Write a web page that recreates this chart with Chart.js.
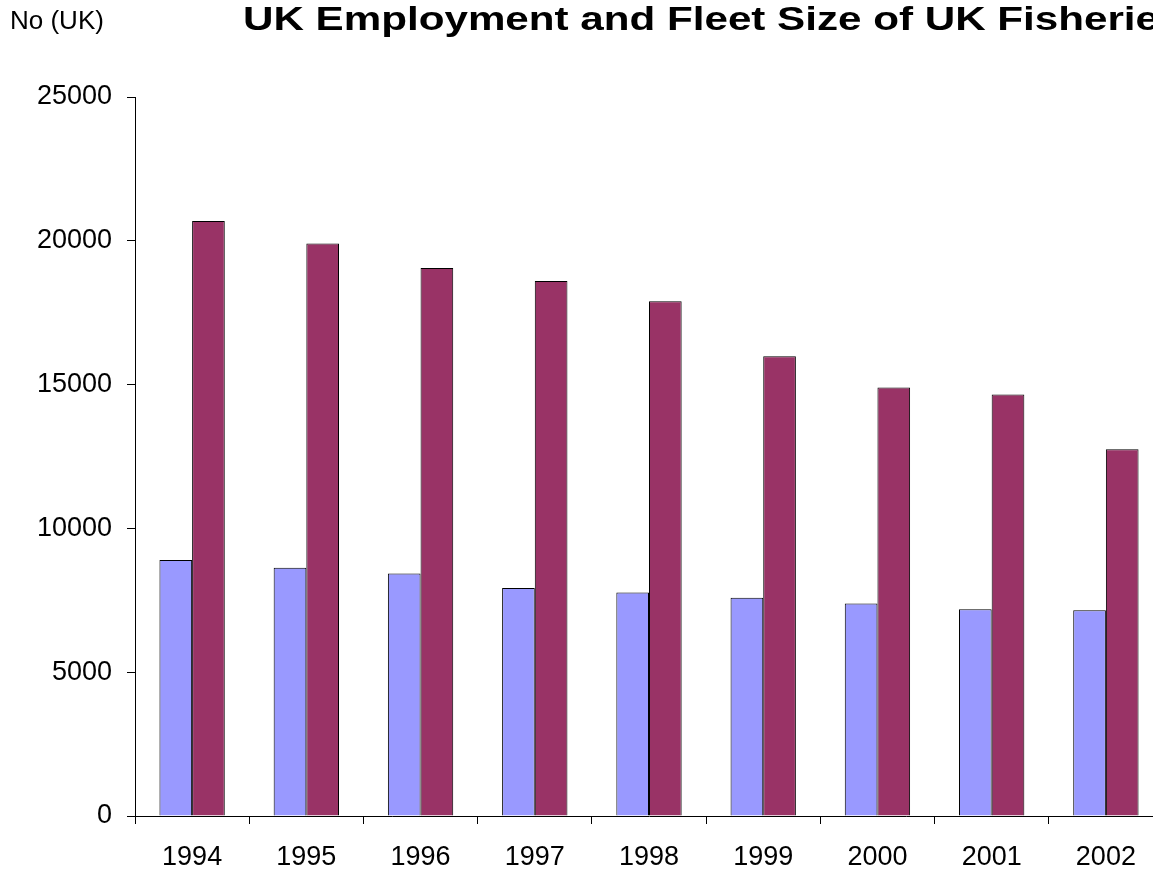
<!DOCTYPE html>
<html>
<head>
<meta charset="utf-8">
<title>UK Employment and Fleet Size of UK Fisheries</title>
<script src="https://cdn.jsdelivr.net/npm/chart.js@4/dist/chart.umd.min.js"></script>
<style>
  html, body { margin: 0; padding: 0; background: #fff; }
  .wrap { width: 1153px; height: 870px; overflow: hidden; position: relative; }
  canvas { display: block; }
</style>
</head>
<body>
<div class="wrap"><canvas id="chart" width="1180" height="870" style="width:1180px;height:870px"></canvas></div>
<script>
// UK fisheries 1994-2002: vessels in the fleet (blue) and fishermen employed (red)
const years = ['1994', '1995', '1996', '1997', '1998', '1999', '2000', '2001', '2002'];
const fleetSize = [8900, 8630, 8430, 7930, 7770, 7590, 7390, 7190, 7150];
const employment = [20690, 19910, 19050, 18600, 17900, 15990, 14900, 14660, 12750];
const yTicks = [0, 5000, 10000, 15000, 20000, 25000];

const FONT = '"Liberation Sans", Arial, sans-serif';
const INK = '#000';

// Title and unit label sit outside the plot, drawn straight onto the canvas.
const headings = {
  id: 'headings',
  afterDraw(chart) {
    const ctx = chart.ctx;
    ctx.save();
    ctx.fillStyle = INK;
    ctx.textBaseline = 'alphabetic';
    ctx.textAlign = 'left';
    ctx.font = '26px ' + FONT;
    ctx.fillText('No (UK)', 10, 29);
    ctx.translate(243, 30);
    ctx.scale(1.24, 1);
    ctx.font = 'bold 34px ' + FONT;
    ctx.fillText('UK Employment and Fleet Size of UK Fisheries', 0, 0);
    ctx.restore();
  }
};

new Chart(document.getElementById('chart'), {
  type: 'bar',
  data: {
    labels: years,
    datasets: [
      { label: 'Fleet size', data: fleetSize, backgroundColor: '#9999FF', borderColor: INK, borderWidth: 1 },
      { label: 'Employment', data: employment, backgroundColor: '#993366', borderColor: INK, borderWidth: 1 },
    ],
  },
  options: {
    responsive: false,
    animation: false,
    devicePixelRatio: 1,
    layout: { padding: { top: 97, right: 17, bottom: 0, left: 0 } },
    datasets: { bar: { categoryPercentage: 0.572, barPercentage: 1 } },
    plugins: { legend: { display: false }, tooltip: { enabled: false }, title: { display: false } },
    scales: {
      x: {
        grid: { display: true, drawOnChartArea: false, color: INK, tickLength: 8, offset: true },
        border: { color: INK },
        ticks: { color: INK, font: { family: FONT, size: 27 }, padding: 17, maxRotation: 0 },
        afterFit: s => { s.height = 54; },
      },
      y: {
        min: 0,
        max: 25000,
        afterBuildTicks: s => { s.ticks = yTicks.map(v => ({ value: v })); },
        grid: { display: true, drawOnChartArea: false, color: INK, tickLength: 8 },
        border: { color: INK },
        ticks: { color: INK, font: { family: FONT, size: 27 }, padding: 15, callback: v => String(v) },
        afterFit: s => { s.width = 135; },
      },
    },
  },
  plugins: [headings],
});
</script>
</body>
</html>
